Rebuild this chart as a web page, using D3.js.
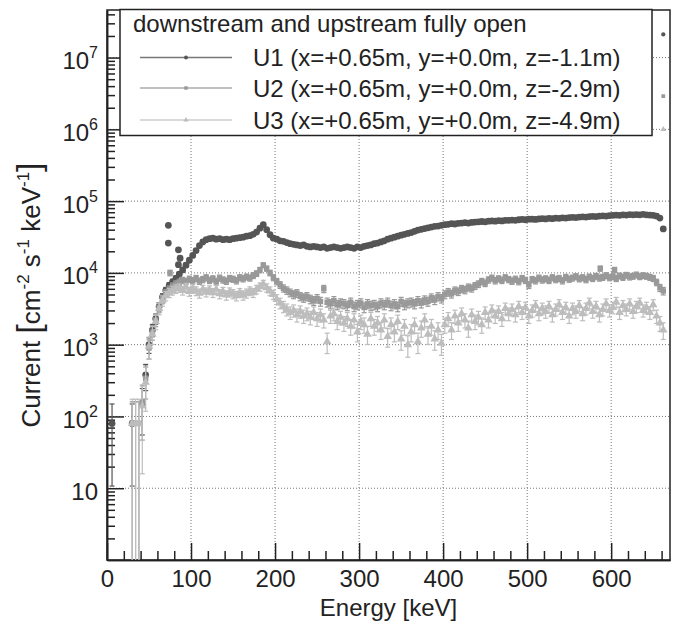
<!DOCTYPE html>
<html>
<head>
<meta charset="utf-8">
<script src="https://cdnjs.cloudflare.com/ajax/libs/d3/7.8.5/d3.min.js"></script>
<style>
body { margin: 0; background: #fff; }
svg { display: block; font-family: "Liberation Sans", Arial, Helvetica, sans-serif; }
.grid line { stroke: #777; stroke-width: 1; stroke-dasharray: 1,2; }
.axis path, .axis line { stroke: #222; stroke-width: 1.5; }
.axis text { font-size: 24px; fill: #222; }
</style>
</head>
<body>
<div id="chart-area"></div>
<script>

// bin centres [keV]
var energy = [
    2, 6, 10, 14, 18, 22, 26, 30, 34, 38,
    42, 46, 50, 54, 58, 62, 66, 70, 74, 78,
    82, 86, 90, 94, 98, 102, 106, 110, 114, 118,
    122, 126, 130, 134, 138, 142, 146, 150, 154, 158,
    162, 166, 170, 174, 178, 182, 186, 190, 194, 198,
    202, 206, 210, 214, 218, 222, 226, 230, 234, 238,
    242, 246, 250, 254, 258, 262, 266, 270, 274, 278,
    282, 286, 290, 294, 298, 302, 306, 310, 314, 318,
    322, 326, 330, 334, 338, 342, 346, 350, 354, 358,
    362, 366, 370, 374, 378, 382, 386, 390, 394, 398,
    402, 406, 410, 414, 418, 422, 426, 430, 434, 438,
    442, 446, 450, 454, 458, 462, 466, 470, 474, 478,
    482, 486, 490, 494, 498, 502, 506, 510, 514, 518,
    522, 526, 530, 534, 538, 542, 546, 550, 554, 558,
    562, 566, 570, 574, 578, 582, 586, 590, 594, 598,
    602, 606, 610, 614, 618, 622, 626, 630, 634, 638,
    642, 646, 650, 654, 658, 662
];

// current [cm-2 s-1 keV-1]
var u1 = [
    null, 80, null, null, null, null, null, 80, null, null,
    150, 380, 1000, 1600, 2300, 3400, 4600, 5700, 6700, 7500,
    8400, 9600, 11000, 12800, 15000, 17500, 20500, 24000, 27000, 29000,
    30000, 30500, 29500, 30000, 29000, 29500, 29000, 30000, 30500, 31000,
    31500, 32500, 33000, 34500, 37000, 42000, 47000, 40000, 34000, 30500,
    29500, 28000, 27500, 26500, 25500, 25000, 24500, 24000, 24500, 23500,
    23000, 23500, 23000, 22500, 23000, 22000, 22500, 23000, 22500, 22000,
    22500, 23000, 22500, 22000, 23000, 22500, 23500, 24000, 24500, 25500,
    26000, 27000, 28000, 29500, 30500, 31500, 32500, 33500, 34500, 35500,
    36500, 38000, 39500, 40500, 41500, 42500, 43500, 44500, 45000, 46000,
    47000, 47500, 48500, 48000, 49000, 49500, 50000, 49500, 50500, 51000,
    51500, 52000, 51500, 52500, 53000, 52500, 53500, 53000, 54000, 54000,
    54500, 54000, 55000, 55500, 55000, 56000, 56000, 55500, 56500, 57000,
    56500, 57500, 57000, 58000, 57500, 58500, 58000, 59000, 59500, 59000,
    60000, 60500, 60000, 61000, 61500, 61000, 62000, 62500, 62000, 63000,
    63500, 64000, 63500, 64500, 64000, 65000, 64500, 65000, 64500, 65500,
    64500, 64000, 63500, 62000, 58000, 41000
];

var u2 = [
    null, null, null, null, null, null, null, 80, 80, 80,
    160, 340, 900, 1500, 2200, 3300, 4300, 5200, 5900, 6500,
    7000, 7400, 7900, 7600, 8200, 7800, 8400, 7700, 8100, 8600,
    7900, 8300, 7600, 8500, 8000, 7700, 8400, 8200, 7800, 8600,
    8300, 8800, 8500, 9200, 9800, 11000, 12800, 11500, 10000, 8600,
    7600, 6800, 6100, 5700, 5300, 5000, 5200, 4700, 4500, 4700,
    4300, 4100, 4400, 4000, 6000, 3900, 3700, 4100, 3600, 3800,
    3700, 3500, 3900, 3400, 3600, 3800, 3300, 3700, 3500, 3600,
    3400, 3800, 3600, 3900, 3500, 3700, 3400, 4000, 3600, 3800,
    3900, 3700, 4100, 3800, 4200, 4000, 4500, 4200, 4700, 4400,
    5000, 5400, 5100, 5700, 5500, 6000, 5800, 6300, 6100, 6600,
    7000, 7600, 7200, 8000, 8500, 7800, 8300, 7900, 8600, 8100,
    7700, 8200, 7600, 8400, 7900, 6800, 8100, 7800, 8500, 8000,
    8300, 7900, 8600, 8100, 8400, 7800, 8700, 8200, 8500, 8900,
    8300, 8600, 8100, 8800, 8400, 9000, 8500, 8700, 9200, 8600,
    8900, 8400, 9100, 8700, 9300, 8800, 9000, 9400, 8900, 9200,
    9000, 8700, 8400, 7400, 6200, 5600
];

var u3 = [
    null, null, null, null, null, null, null, 80, 80, 80,
    140, 300, 950, 1400, 2100, 3200, 4100, 4800, 5300, 5700,
    6000, 6200, 5700, 6300, 5500, 6000, 5600, 5200, 5900, 5400,
    5800, 5300, 5900, 5100, 5500, 4900, 5400, 5100, 4800, 5300,
    4900, 5200, 5600, 5300, 5900, 6400, 7000, 6200, 5600, 5000,
    4300, 3800, 3400, 3100, 2800, 3000, 2600, 2900, 2500, 2700,
    2400, 2800, 2300, 2600, 2200, 1100, 2500, 2700, 2100, 2400,
    2000, 2300, 1800, 2200, 1500, 2100, 1900, 1400, 2300, 1800,
    2000, 1600, 2200, 1300, 1900, 1500, 2100, 1200, 1800, 1000,
    1500, 1900, 1100, 1700, 2200, 1400, 1800, 1200, 1600, 1050,
    1900, 2300, 1600, 2500, 2000, 2700, 2200, 1700, 2600, 2100,
    2400, 1900, 2800, 2200, 3000, 2500, 2900, 2300, 3200, 2700,
    3100, 2600, 3400, 2800, 3300, 2500, 3000, 3500, 2700, 3200,
    2900, 3400, 2600, 3100, 3600, 2800, 3300, 2500, 3200, 2900,
    3500, 2700, 3200, 3800, 2900, 3400, 2600, 3100, 3700, 3000,
    3300, 3900, 2800, 3500, 3100, 3700, 2900, 3400, 3800, 3000,
    3300, 2800, 3600, 2500, 2000, 1600
];

// single points off the main curves
var u1ExtraE = [73, 73, 85, 87, 85];
var u1ExtraV = [46000, 26000, 21000, 16000, 13000];
var u2ExtraE = [75, 587, 604];
var u2ExtraV = [10000, 11500, 11000];
var edgeE = 662;
var edgeV = [2.1e7, 2.9e6, 1.0e6];

// flux per count, used for the error bars
var fluxPerCount = [60, 80, 110];

var seriesNames = [
    "U1 (x=+0.65m, y=+0.0m, z=-1.1m)",
    "U2 (x=+0.65m, y=+0.0m, z=-2.9m)",
    "U3 (x=+0.65m, y=+0.0m, z=-4.9m)"
];
var legendTitle = "downstream and upstream fully open";
var xTicks = [0, 100, 200, 300, 400, 500, 600];
var yTicks = [10, 1e2, 1e3, 1e4, 1e5, 1e6, 1e7];

var colors = ["#555555", "#999999", "#bdbdbd"];
var lineColors = ["#777777", "#aaaaaa", "#cccccc"];

// SVG drawing area
var margin = {top: 10, right: 8, bottom: 70, left: 107};

var width = 678 - margin.left - margin.right,
    height = 630 - margin.top - margin.bottom;

var svg = d3.select("#chart-area").append("svg")
    .attr("width", width + margin.left + margin.right)
    .attr("height", height + margin.top + margin.bottom)
    .append("g")
    .attr("transform", "translate(" + margin.left + "," + margin.top + ")");

//SCALES
var x = d3.scaleLinear()
    .domain([0, 670])
    .range([0, width]);

var y = d3.scaleLog()
    .domain([1, 4.6e7])
    .range([height, 0]);

//GRID
var grid = svg.append("g").attr("class", "grid");
grid.selectAll(".gx")
    .data(xTicks.slice(1))
    .enter().append("line")
    .attr("x1", function(d) { return x(d); })
    .attr("x2", function(d) { return x(d); })
    .attr("y1", 0)
    .attr("y2", height);
grid.selectAll(".gy")
    .data(yTicks)
    .enter().append("line")
    .attr("x1", 0)
    .attr("x2", width)
    .attr("y1", function(d) { return y(d); })
    .attr("y2", function(d) { return y(d); });

//AXES
var xMinor = d3.range(20, 670, 20).filter(function(d) { return d % 100 !== 0; });

svg.append("g")
    .attr("class", "axis x-axis")
    .attr("transform", "translate(0," + height + ")")
    .call(d3.axisBottom(x).tickValues(xMinor).tickSize(-9).tickSizeOuter(0).tickFormat(""));

svg.append("g")
    .attr("class", "axis x-axis")
    .attr("transform", "translate(0," + height + ")")
    .call(d3.axisBottom(x).tickValues(xTicks).tickSize(-17).tickSizeOuter(0).tickPadding(10).tickFormat(d3.format("d")));

var yMinor = [];
for (var p = 0; p < 8; p++) {
    for (var k = 2; k < 10; k++) {
        var v = k * Math.pow(10, p);
        if (v < 4.6e7) yMinor.push(v);
    }
}

svg.append("g")
    .attr("class", "axis y-axis")
    .call(d3.axisLeft(y).tickValues(yMinor).tickSize(-8).tickSizeOuter(0).tickFormat(""));

var yAx = svg.append("g")
    .attr("class", "axis y-axis")
    .call(d3.axisLeft(y).tickValues(yTicks).tickSize(-17).tickSizeOuter(0).tickFormat(""));

yAx.selectAll(".tick").each(function(d) {
    var t = d3.select(this).append("text")
        .attr("x", -9)
        .attr("y", 11)
        .attr("text-anchor", "end")
        .attr("fill", "#222");
    if (d === 10) {
        t.text("10");
    } else {
        t.append("tspan").text("10");
        t.append("tspan")
            .attr("dy", -11)
            .style("font-size", "16px")
            .text(Math.round(Math.log10(d)));
    }
});

// frame
svg.append("rect")
    .attr("width", width)
    .attr("height", height)
    .attr("fill", "none")
    .attr("stroke", "#222")
    .attr("stroke-width", 1.5);

// axis titles
svg.append("text")
    .attr("class", "xlabel")
    .attr("x", width / 2)
    .attr("y", height + 56)
    .style("text-anchor", "middle")
    .style("font-size", "24px")
    .attr("fill", "#222")
    .text("Energy [keV]");

var ylab = svg.append("text")
    .attr("class", "ylabel")
    .attr("transform", "translate(-67," + 285 + ") rotate(-90)")
    .style("text-anchor", "middle")
    .style("font-size", "26px")
    .attr("fill", "#222");
ylab.append("tspan").text("Current ");
ylab.append("tspan").style("font-size", "34px").style("font-weight", "300").text("[");
ylab.append("tspan").text("cm");
ylab.append("tspan").attr("dy", -11).style("font-size", "17px").text("-2");
ylab.append("tspan").attr("dy", 11).text(" s");
ylab.append("tspan").attr("dy", -11).style("font-size", "17px").text("-1");
ylab.append("tspan").attr("dy", 11).text(" keV");
ylab.append("tspan").attr("dy", -11).style("font-size", "17px").text("-1");
ylab.append("tspan").attr("dy", 11).style("font-size", "34px").style("font-weight", "300").text("]");

//DATA
var plot = svg.append("g");

function buildPoints(values) {
    var pts = [];
    values.forEach(function(v, i) {
        if (v !== null) pts.push({e: energy[i], v: v});
    });
    return pts;
}

var series = [
    buildPoints(u1).concat(u1ExtraE.map(function(e, i) { return {e: e, v: u1ExtraV[i]}; })),
    buildPoints(u2).concat(u2ExtraE.map(function(e, i) { return {e: e, v: u2ExtraV[i]}; })),
    buildPoints(u3)
];
series.forEach(function(s, i) { s.push({e: edgeE, v: edgeV[i], edge: true}); });

var symbols = [d3.symbolCircle, d3.symbolSquare, d3.symbolTriangle];
var symSizes = [36, 30, 32];

series.forEach(function(pts, si) {
    var g = plot.append("g").attr("class", "series s" + si);

    var bars = g.selectAll(".err")
        .data(pts.filter(function(d) { return !d.edge; }))
        .enter().append("g")
        .attr("class", "err")
        .attr("stroke", colors[si])
        .attr("stroke-width", 1.2);

    bars.each(function(d) {
        var err = Math.sqrt(d.v * fluxPerCount[si]);
        var hi = y(d.v + err);
        var lo = d.v - err > 1 ? y(d.v - err) : height;
        var cx = x(d.e);
        var sel = d3.select(this);
        sel.append("line").attr("x1", cx).attr("x2", cx).attr("y1", hi).attr("y2", lo);
        sel.append("line").attr("x1", cx - 2.5).attr("x2", cx + 2.5).attr("y1", hi).attr("y2", hi);
        if (lo < height) {
            sel.append("line").attr("x1", cx - 2.5).attr("x2", cx + 2.5).attr("y1", lo).attr("y2", lo);
        }
    });

    g.selectAll(".dot")
        .data(pts)
        .enter().append("path")
        .attr("class", "dot")
        .attr("d", d3.symbol().type(symbols[si]).size(function(d) { return d.edge ? 14 : symSizes[si]; }))
        .attr("transform", function(d) { return "translate(" + x(d.e) + "," + y(d.v) + ")"; })
        .attr("fill", colors[si]);
});

//LEGEND
var leg = svg.append("g").attr("class", "legend");
leg.append("rect")
    .attr("x", 13)
    .attr("y", -0.5)
    .attr("width", 532)
    .attr("height", 126)
    .attr("fill", "#fff")
    .attr("stroke", "#222")
    .attr("stroke-width", 1.5);

leg.append("text")
    .attr("x", 26)
    .attr("y", 22)
    .style("font-size", "24px")
    .attr("fill", "#222")
    .text(legendTitle);

var rowsY = [47.5, 78, 110];
seriesNames.forEach(function(name, i) {
    leg.append("line")
        .attr("x1", 33).attr("x2", 125)
        .attr("y1", rowsY[i]).attr("y2", rowsY[i])
        .attr("stroke", lineColors[i])
        .attr("stroke-width", 1.5);
    leg.append("path")
        .attr("d", d3.symbol().type(symbols[i]).size(12))
        .attr("transform", "translate(79," + rowsY[i] + ")")
        .attr("fill", colors[i]);
    leg.append("text")
        .attr("x", 146)
        .attr("y", rowsY[i] + 8.5)
        .style("font-size", "24px")
        .attr("fill", "#222")
        .text(name);
});

</script>
</body>
</html>
